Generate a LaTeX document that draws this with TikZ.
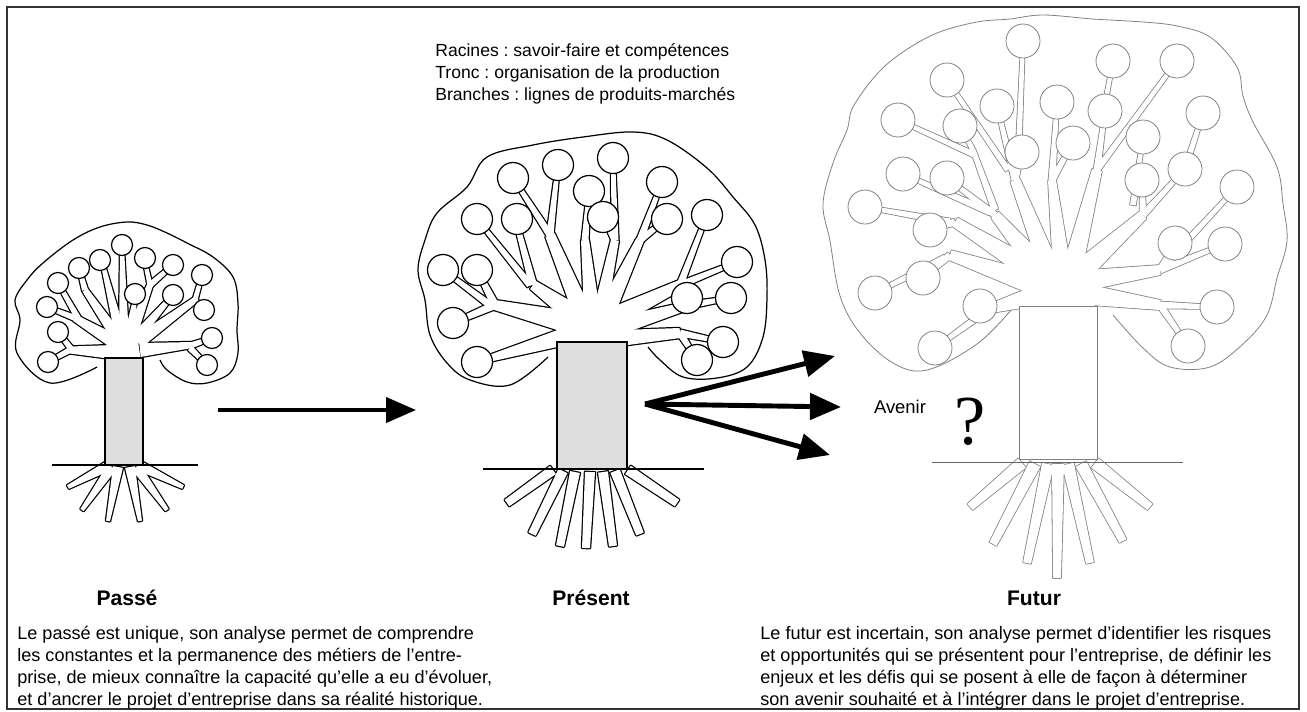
\documentclass[tikz,border=0pt]{standalone}
\usepackage{fontspec}
\setmainfont{Liberation Sans}
\newfontfamily\qfont{Liberation Serif}
\usetikzlibrary{calc,arrows.meta}
\frenchspacing

% tapered limb from (#2,#3) to (#4,#5), half widths #6 and #7
\newcommand{\limb}[7]{%
  \coordinate (la) at (#2,#3);
  \coordinate (lb) at (#4,#5);
  \path[#1] ($(la)!#6*0.02cm!90:(lb)$) -- ($(lb)!#7*0.02cm!-90:(la)$)
    -- ($(lb)!#7*0.02cm!90:(la)$) -- ($(la)!#6*0.02cm!-90:(lb)$) -- cycle;}

\begin{document}
\begin{tikzpicture}[x=0.02cm, y=-0.02cm,
        crown/.style={draw=black, line width=0.7pt},
        limbback/.style={draw=black, fill=black, line width=1.4pt, line join=round},
        futback/.style={draw=black!50, fill=black!50, line width=0.9pt, line join=round},
        limbfill/.style={fill=white},
        fruit/.style={draw=black, fill=white, line width=0.7pt},
        futfruit/.style={draw=black!50, fill=white, line width=0.45pt},
        trunk/.style={draw=black, fill=black!13, line width=0.7pt},
        ground/.style={draw=black, line width=0.7pt},
        bigarrow/.style={-{Triangle[length=0.6cm, width=0.5cm]}, line width=2.3pt},
        forkarrow/.style={-{Triangle[length=0.62cm, width=0.52cm]}, line width=2.8pt},
        title/.style={font=\fontsize{12}{14}\selectfont\bfseries},
        para/.style={font=\fontsize{10.3}{12.5}\selectfont, align=left, anchor=north west, inner sep=0pt},
    ]
        \useasboundingbox (0,0) rectangle (1307,711);
        \draw[black!80, line width=1.1pt] (7,7) rectangle (1299,709);

        % Passe
        \def\pastlimbs{124/362/124/334/17/13, 112/352/70/350/7/3.5, 70/350/48/362/3/2, 72/350/58/332/3/2,
            115/342/75/318/7/3.5, 75/318/47/307/3/2, 78/318/58/283/3/2, 118/338/85/290/6/3, 85/290/79/268/3/2,
            121/338/103/265/5.5/2, 124/338/122/248/5/2, 128/338/135/300/4.5/2,
            130/338/150/285/6/3, 150/285/145/262/2.5/2, 150/285/173/265/3/2, 134/340/173/295/5.5/2,
            138/342/195/300/6.5/3, 195/300/202/275/2.5/2, 195/300/204/310/2.5/2,
            140/350/192/345/7/3, 192/345/212/338/3/2, 190/348/207/365/3/2,
            108/466/68/487/5/2, 112/467/82/510/5/2, 118/467/108/521/5/2, 130/467/140/521/5/2, 136/467/167/510/5/2, 140/466/183/487/5/2}
        \draw[crown] plot[smooth, tension=0.6] coordinates {(97,367) (50,383) (17,353) (20,320) (15,300) (27,280) (43,263)
            (73,240) (100,227) (127,222) (147,225) (167,233) (187,243) (213,257) (233,277) (238,303) (237,330) (238,353)
            (230,373) (207,383) (187,382) (167,370) (160,360)};
        \foreach \xa/\ya/\xb/\yb/\wa/\wb in \pastlimbs {\limb{limbback}{\xa}{\ya}{\xb}{\yb}{\wa}{\wb}}
        \foreach \xa/\ya/\xb/\yb/\wa/\wb in \pastlimbs {\limb{limbfill}{\xa}{\ya}{\xb}{\yb}{\wa}{\wb}}
        \foreach \x/\y in {122/245, 100/260, 79/268, 58/283, 47/307, 58/332, 48/362, 145/258, 173/265,
            135/294, 173/295, 202/275, 204/310, 212/338, 207/365}
            \draw[fruit] (\x,\y) circle[radius=10.5];
        \draw[trunk] (105,358) rectangle (143,465);
        \draw[ground] (52,465) -- (198,465);

        % Present
        \def\preslimbs{592/345/592/303/33/21, 570/335/477/362/9/2.5,
            568/322/495/305/11/5, 495/305/453/323/4/2.5, 495/305/477/270/4/2.5, 490/305/443/270/3.5/2,
            575/315/533/285/10/5, 533/285/517/225/4/2.5, 530/285/477/219/3.5/2,
            582/312/550/235/9/5, 550/235/513/178/3.5/2, 550/235/558/165/3.5/2,
            592/312/585/240/8/4, 585/240/589/191/3.5/2, 600/312/615/240/7/4, 615/240/603/217/3.5/2, 615/240/613/158/3.5/2,
            606/312/640/240/9/4, 640/240/662/182/3.5/2, 640/240/667/219/3.5/2,
            612/318/680/285/10/5, 680/285/707/215/3.5/2, 680/285/737/262/3.5/2,
            618/326/690/305/9/4, 690/305/731/298/3.5/2, 620/338/680/333/8/5, 680/333/723/342/3.5/2, 680/333/697/360/3.5/2,
            553/470/507/503/5/4, 563/471/532/534/5/4, 575/472/560/546/5/4, 590/472/586/548/5/4,
            603/472/613/546/5/4, 615/471/640/534/5/4, 628/470/677/503/5/4}
        \draw[crown] plot[smooth, tension=0.6] coordinates {(548,357) (510,385) (470,380) (447,363) (430,335) (425,300)
            (418,270) (425,240) (437,213) (467,187) (487,157) (533,145) (583,137) (633,132) (667,140) (707,168) (733,197)
            (755,225) (765,260) (767,297) (763,337) (747,367) (717,378) (683,377) (660,360) (648,347)};
        \foreach \xa/\ya/\xb/\yb/\wa/\wb in \preslimbs {\limb{limbback}{\xa}{\ya}{\xb}{\yb}{\wa}{\wb}}
        \foreach \xa/\ya/\xb/\yb/\wa/\wb in \preslimbs {\limb{limbfill}{\xa}{\ya}{\xb}{\yb}{\wa}{\wb}}
        \foreach \x/\y in {513/178, 558/165, 613/158, 662/182, 589/191, 477/219, 517/219, 603/217, 667/219, 707/215,
            443/270, 477/270, 737/262, 453/323, 687/298, 731/298, 477/362, 723/342, 697/360}
            \draw[fruit] (\x,\y) circle[radius=15.5];
        \draw[trunk] (557,342) rectangle (627,469);
        \draw[ground] (483,469) -- (704,469);

        % Futur
        \def\futlimbs{1058/309/1058/260/37/27, 1028/298/985/310/9/4, 985/312/935/348/3.5/2,
            1030/282/950/255/11/5, 950/255/923/278/3.5/2, 945/258/875/293/3.5/2,
            1035/272/955/222/11/5, 955/222/930/230/3.5/2, 950/222/865/207/3.5/2,
            1042/270/995/215/11/5, 995/215/947/178/3.5/2, 990/212/903/174/3.5/2, 995/210/973/150/3.5/2.5,
            973/150/960/126/2.5/2, 975/155/898/120/3/2,
            1050/270/1015/180/10/5, 1015/180/1022/152/3.5/2, 1015/180/997/106/3.5/2, 1008/170/947/80/3/2, 1018/165/1023/41/3/2,
            1062/270/1052/180/9/4, 1052/180/1057/102/3.5/2, 1052/180/1073/143/3.5/2,
            1072/270/1097/170/10/5, 1097/170/1105/111/3.5/2, 1103/115/1113/61/2.5/2, 1097/170/1177/61/3/2,
            1080/272/1143/215/11/5, 1143/215/1142/180/3.5/2, 1133/205/1143/137/3/2, 1143/215/1185/169/3.5/2, 1185/169/1203/113/3/2,
            1088/280/1160/270/10/5, 1160/270/1175/243/3.5/2, 1160/270/1237/187/3.5/2, 1160/270/1225/244/3.5/2,
            1090/295/1160/305/10/5, 1160/305/1217/307/3.5/2, 1160/305/1188/346/3.5/2,
            1022/463/970/507/6/4, 1035/464/993/544/6/4, 1048/464/1027/563/6/4, 1058/464/1057/578/6/4,
            1068/464/1090/563/6/4, 1081/464/1123/541/6/4, 1095/463/1150/507/6/4}
        \draw[crown, draw=black!50, line width=0.45pt] plot[smooth, tension=0.6] coordinates {(1012,309) (977,344) (927,370)
            (893,363) (860,333) (840,296) (830,241) (823,204) (833,163) (847,130) (853,107) (877,74) (903,52) (937,33)
            (977,22) (1010,19) (1043,15) (1093,19) (1143,22) (1177,26) (1210,37) (1237,67) (1243,96) (1253,122) (1277,167)
            (1283,204) (1287,241) (1277,278) (1267,315) (1243,344) (1210,367) (1170,367) (1143,348) (1113,315)};
        \foreach \xa/\ya/\xb/\yb/\wa/\wb in \futlimbs {\limb{futback}{\xa}{\ya}{\xb}{\yb}{\wa}{\wb}}
        \foreach \xa/\ya/\xb/\yb/\wa/\wb in \futlimbs {\limb{limbfill}{\xa}{\ya}{\xb}{\yb}{\wa}{\wb}}
        \foreach \x/\y in {1023/41, 1113/61, 1177/61, 947/80, 997/106, 1057/102, 1105/111, 1203/113, 898/120, 960/126,
            1022/152, 1073/143, 1143/137, 903/174, 947/178, 1142/180, 1185/169, 865/207, 1237/187, 930/230, 1175/243,
            1225/244, 875/293, 923/278, 980/306, 1217/307, 935/348, 1188/346}
            \draw[futfruit] (\x,\y) circle[radius=17];
        \draw[trunk, draw=black!50, fill=white, line width=0.45pt] (1019,306) rectangle (1097,459);
        \draw[ground, draw=black!60, line width=0.5pt] (932,462) -- (1183,462);

        % Arrows
        \coordinate (pastout) at (218,410);
        \coordinate (presin) at (416,410);
        \coordinate (fork) at (645,404);
        \coordinate (futup) at (835,356);
        \coordinate (futmid) at (841,407);
        \coordinate (futdown) at (830,455);
        \draw[bigarrow] (pastout) -- (presin);
        \foreach \t in {futup, futmid, futdown}
            \draw[forkarrow] (fork) -- (\t);

        % Texts
        \node[para, font=\fontsize{10}{12.5}\selectfont] (legend) at (435,43) {Racines : savoir-faire et compétences\\
            Tronc : organisation de la production\\Branches : lignes de produits-marchés};
        \node[font=\fontsize{10.5}{12}\selectfont] (avenir) at (900,407) {Avenir};
        \node[font=\qfont\fontsize{40}{40}\selectfont, inner sep=0pt] (doubt) at (970,422) {?};
        \node[title] (passe) at (127,598) {Passé};
        \node[title] (present) at (591,598) {Présent};
        \node[title] (futur) at (1034,598) {Futur};
        \node[para] (pasttext) at (17,626) {Le passé est unique, son analyse permet de comprendre\\
            les constantes et la permanence des métiers de l'entre-\\
            prise, de mieux connaître la capacité qu'elle a eu d'évoluer,\\
            et d'ancrer le projet d'entreprise dans sa réalité historique.};
        \node[para] (futtext) at (760,626) {Le futur est incertain, son analyse permet d'identifier les risques\\
            et opportunités qui se présentent pour l'entreprise, de définir les\\
            enjeux et les défis qui se posent à elle de façon à déterminer\\
            son avenir souhaité et à l'intégrer dans le projet d'entreprise.};

    \end{tikzpicture}
\end{document}
